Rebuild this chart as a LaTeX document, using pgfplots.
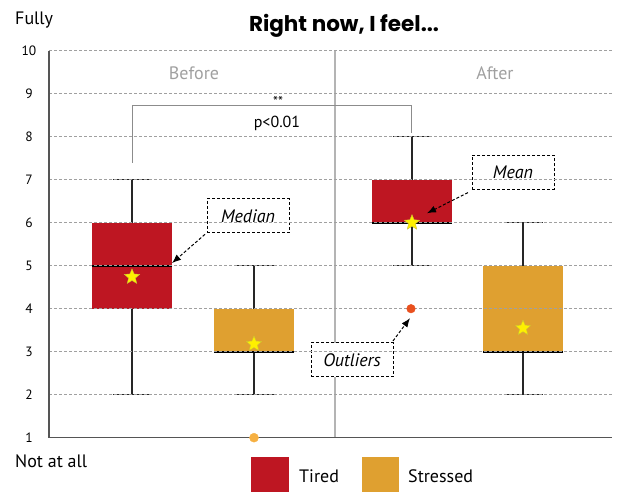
\documentclass[border=0pt]{standalone}
\usepackage{fontspec}
\setmainfont{PT Sans}
\newfontfamily\titlefont{Poppins}
\usepackage{pgfplots}
\pgfplotsset{compat=1.18}
\usepgfplotslibrary{statistics}
\usetikzlibrary{arrows.meta}

\definecolor{cTired}{HTML}{BE1622}
\definecolor{cStress}{HTML}{DFA030}
\definecolor{cOutA}{HTML}{F6B042}
\definecolor{cOutB}{HTML}{E9501E}
\definecolor{cStar}{HTML}{FFF000}
\definecolor{cGrid}{HTML}{A0A0A0}
\definecolor{cAxis}{HTML}{555555}
\definecolor{cSep}{HTML}{B4B4B4}

% filled five-point star for the means
\pgfdeclareplotmark{fstar}{%
  \pgfpathmoveto{\pgfpointpolar{90}{\pgfplotmarksize}}%
  \pgfpathlineto{\pgfpointpolar{126}{0.45\pgfplotmarksize}}%
  \pgfpathlineto{\pgfpointpolar{162}{\pgfplotmarksize}}%
  \pgfpathlineto{\pgfpointpolar{198}{0.45\pgfplotmarksize}}%
  \pgfpathlineto{\pgfpointpolar{234}{\pgfplotmarksize}}%
  \pgfpathlineto{\pgfpointpolar{270}{0.45\pgfplotmarksize}}%
  \pgfpathlineto{\pgfpointpolar{306}{\pgfplotmarksize}}%
  \pgfpathlineto{\pgfpointpolar{342}{0.45\pgfplotmarksize}}%
  \pgfpathlineto{\pgfpointpolar{18}{\pgfplotmarksize}}%
  \pgfpathlineto{\pgfpointpolar{54}{0.45\pgfplotmarksize}}%
  \pgfpathclose
  \pgfusepathqfillstroke}

\pgfplotsset{
  bx/.style={
    line width=1.6pt, draw=black!85,
    boxplot prepared={box extend=80, whisker extend=39,
      every box/.style={fill=#1, draw=none},
      every whisker/.style={draw=black!85, line width=1.6pt},
      every median/.style={draw=black, line width=1.8pt}},
  },
}
\tikzset{
  callout/.style={draw=black, dash pattern=on 3pt off 2pt, line width=0.9pt, fill=white,
    minimum width=82pt, minimum height=34pt, inner sep=0pt,
    font=\itshape\fontsize{18}{18}\selectfont},
  callarrow/.style={black, dash pattern=on 3pt off 2pt, line width=1pt,
    -{Latex[length=9pt,width=7pt]}},
}

\begin{document}
\begin{tikzpicture}[x=1pt,y=1pt]
\useasboundingbox (0,0) rectangle (619,492);
\clip (0,0) rectangle (619,492);
\begin{axis}[
  at={(49pt,54.3pt)}, anchor=south west,
  scale only axis, width=563pt, height=387pt,
  xmin=49, xmax=612, ymin=1, ymax=10,
  axis lines*=left,
  axis line style={cAxis, line width=1.6pt},
  xtick=\empty, ytick={1,2,...,10},
  major tick length=0pt,
  ymajorgrids, grid style={cGrid, dash pattern=on 3pt off 2pt, line width=0.8pt},
  yticklabel style={font=\fontsize{13.5}{13.5}\selectfont, anchor=center, xshift=-20pt},
  /pgf/number format/assume math mode=true,
  boxplot/draw direction=y,
  axis on top,
  clip=false,
]
% separator between Before and After
\draw[cSep, line width=1.4pt] (axis cs:335,1) -- (axis cs:335,10);

% boxes
\addplot[bx=cTired, boxplot prepared={draw position=132, lower whisker=2, lower quartile=4,
  median=5, upper quartile=6, upper whisker=7}] coordinates {};
\addplot[bx=cStress, boxplot prepared={draw position=254, lower whisker=2, lower quartile=3,
  median=3, upper quartile=4, upper whisker=5}] coordinates {};
\addplot[bx=cTired, boxplot prepared={draw position=412, lower whisker=5, lower quartile=6,
  median=6, upper quartile=7, upper whisker=8}] coordinates {};
\addplot[bx=cStress, boxplot prepared={draw position=523, lower whisker=2, lower quartile=3,
  median=3, upper quartile=5, upper whisker=6}] coordinates {};

% outliers
\addplot[only marks, mark=*, mark size=4.5pt, color=cOutA] coordinates {(254,1)};
\addplot[only marks, mark=*, mark size=4.3pt, color=cOutB] coordinates {(411,4)};

% means
\addplot[only marks, mark=fstar, mark size=8pt, fill=cStar, draw=cStar!60!gray, line width=0.4pt]
  coordinates {(132,4.74) (254,3.18) (412,6.0) (523,3.55)};

% group labels
\node[text=cGrid, font=\fontsize{18}{18}\selectfont] at (axis cs:194,9.48) {Before};
\node[text=cGrid, font=\fontsize{18}{18}\selectfont] at (axis cs:495,9.48) {After};

% significance bracket
\draw[black!45, line width=0.9pt] (axis cs:132,7.39) -- (axis cs:132,8.72) -- (axis cs:411,8.72) -- (axis cs:411,8.09);
\node[font=\fontsize{14}{14}\selectfont] at (axis cs:278,8.83) {**};
\node[font=\fontsize{16}{16}\selectfont] at (axis cs:277,8.32) {p<0.01};

% callouts
\node[callout] at (axis cs:248,6.16) {Median};
\draw[callarrow] (axis cs:205,5.73) -- (axis cs:172,5.06);
\node[callout] at (axis cs:513,7.17) {Mean};
\draw[callarrow] (axis cs:468,6.70) -- (axis cs:427,6.22);
\node[callout] at (axis cs:352,2.81) {Outliers};
\draw[callarrow] (axis cs:393,3.25) -- (axis cs:410,3.78);
\end{axis}

% title and scale ends
\node[anchor=base, font=\titlefont\bfseries\fontsize{21.5}{21.5}\selectfont] at (344,460) {Right now, I feel...};
\node[anchor=base west, font=\fontsize{18}{18}\selectfont, inner sep=0pt] at (15,467) {Fully};
\node[anchor=base west, font=\fontsize{18}{18}\selectfont, inner sep=0pt] at (15,24) {Not at all};

% legend
\fill[cTired] (251,-5) rectangle (289,35);
\node[anchor=base west, font=\fontsize{18}{18}\selectfont, inner sep=0pt] at (299,9) {Tired};
\fill[cStress] (362,-5) rectangle (399,35);
\node[anchor=base west, font=\fontsize{18}{18}\selectfont, inner sep=0pt] at (408,9) {Stressed};
\end{tikzpicture}
\end{document}
